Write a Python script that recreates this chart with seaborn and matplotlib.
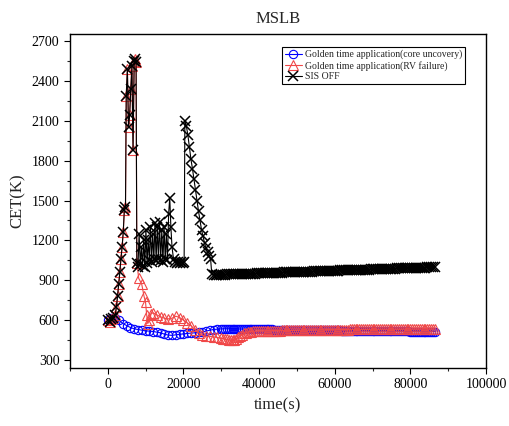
import numpy as np
import pandas as pd
import matplotlib
matplotlib.use("Agg")
import matplotlib.pyplot as plt
import seaborn as sns
from matplotlib.ticker import MultipleLocator

sns.set_style("ticks")
plt.rcParams['font.family'] = ['Liberation Serif', 'DejaVu Serif']

# ---- data ----
# Golden time application (core uncovery)
t_core = [0, 1000, 2000, 3000, 4000, 5000, 6000, 7000, 8000, 9000, 10000, 11000, 12000, 13000,
          14000, 15000, 16000, 17000, 18000, 19000, 20000, 21000, 22000, 23000, 24000, 25000,
          26000, 27000, 28000, 29000, 30000,
          30500, 31000, 31500, 32000, 32500, 33000, 33500, 34000, 34500, 35000,
          35500, 36000, 36500, 37000, 37500, 38000, 38500, 39000, 39500, 40000,
          40500, 41000, 41500, 42000, 42500, 43000, 43500, 44000, 44500, 45000,
          45500, 46000, 46500, 47000, 47500, 48000, 48500, 49000, 49500, 50000,
          50500, 51000, 51500, 52000, 52500, 53000, 53500, 54000, 54500, 55000,
          55500, 56000, 56500, 57000, 57500, 58000, 58500, 59000, 59500, 60000,
          60500, 61000, 61500, 62000, 62500, 63000, 63500, 64000, 64500, 65000,
          65500, 66000, 66500, 67000, 67500, 68000, 68500, 69000, 69500, 70000,
          70500, 71000, 71500, 72000, 72500, 73000, 73500, 74000, 74500, 75000,
          75500, 76000, 76500, 77000, 77500, 78000, 78500, 79000, 79500, 80000,
          80500, 81000, 81500, 82000, 82500, 83000, 83500, 84000, 84500, 85000,
          85500, 86000, 86400]
v_core = [600, 615, 620, 600, 575, 560, 545, 535, 530, 525, 520, 518, 515, 510,
          505, 495, 488, 486, 490, 494, 497, 500, 503, 505, 508, 512,
          518, 525, 530, 533, 535,
          535, 536, 536, 536, 536, 535, 535, 535, 535, 534,
          534, 534, 534, 533, 533, 533, 533, 533, 533, 532,
          532, 532, 532, 531, 531, 531, 531, 530, 530, 530,
          530, 530, 529, 529, 529, 529, 528, 528, 528, 528,
          527, 527, 527, 527, 527, 526, 526, 526, 526, 525,
          525, 525, 525, 525, 524, 524, 524, 524, 523, 523,
          523, 523, 523, 522, 522, 522, 522, 521, 521, 521,
          521, 521, 520, 520, 520, 520, 520, 519, 519, 519,
          519, 519, 518, 518, 518, 518, 518, 517, 517, 517,
          517, 517, 517, 516, 516, 516, 516, 516, 516, 515,
          515, 515, 515, 515, 515, 515, 515, 515, 515, 515,
          515, 515, 515]

# Golden time application (RV failure)
t_rv = [0, 500, 1000, 1500, 2000, 2300, 2600, 2900, 3200, 3500, 3800, 4100, 4400, 4700, 4900,
        5200, 5500, 5800, 6100, 6400, 6700, 7000, 7300, 7500, 7700, 8200, 9000, 9600, 10000,
        10300, 10600, 11000, 11500, 12000, 13000, 14000, 15000, 16000, 17000, 18000, 19000,
        20000, 21000, 22000, 23000, 24000, 25000, 26000, 27000, 28000, 29000, 30000,
        30500, 31000, 31500, 32000, 32500, 33000, 33500, 34000, 34500, 35000,
        35500, 36000, 36500, 37000, 37500, 38000, 38500, 39000, 39500, 40000,
        40500, 41000, 41500, 42000, 42500, 43000, 43500, 44000, 44500, 45000,
        45500, 46000, 46500, 47000, 47500, 48000, 48500, 49000, 49500, 50000,
        50500, 51000, 51500, 52000, 52500, 53000, 53500, 54000, 54500, 55000,
        55500, 56000, 56500, 57000, 57500, 58000, 58500, 59000, 59500, 60000,
        60500, 61000, 61500, 62000, 62500, 63000, 63500, 64000, 64500, 65000,
        65500, 66000, 66500, 67000, 67500, 68000, 68500, 69000, 69500, 70000,
        70500, 71000, 71500, 72000, 72500, 73000, 73500, 74000, 74500, 75000,
        75500, 76000, 76500, 77000, 77500, 78000, 78500, 79000, 79500, 80000,
        80500, 81000, 81500, 82000, 82500, 83000, 83500, 84000, 84500, 85000,
        85500, 86000, 86400]
v_rv = [600, 590, 610, 620, 640, 700, 780, 870, 960, 1060, 1150, 1260, 1430, 1450, 2290,
        2490, 2050, 2140, 2340, 2510, 1880, 2550, 2565, 2540, 1030, 915, 870, 780, 735,
        640, 575, 600, 650, 655, 640, 625, 615, 610, 615, 630, 620,
        600, 580, 560, 530, 505, 485, 480, 478, 475, 470, 465,
        462, 458, 455, 452, 450, 448, 450, 460, 470, 480,
        490, 500, 505, 510, 513, 515, 517, 518, 519, 520,
        520, 520, 521, 521, 521, 521, 522, 522, 522, 522,
        522, 523, 523, 523, 523, 524, 524, 524, 524, 525,
        525, 525, 525, 526, 526, 526, 526, 527, 527, 527,
        527, 528, 528, 528, 528, 529, 529, 529, 529, 529,
        529, 530, 530, 530, 530, 530, 530, 531, 531, 531,
        531, 531, 531, 531, 532, 532, 532, 532, 532, 532,
        532, 532, 533, 533, 533, 533, 533, 533, 533, 533,
        533, 534, 534, 534, 534, 534, 534, 534, 534, 534,
        534, 535, 535, 535, 535, 535, 535, 535, 535, 535,
        535, 535, 535]

# SIS OFF
t_sis = [0, 500, 1000, 1500, 2000, 2300, 2600, 2900, 3200, 3500, 3800, 4100, 4400, 4700, 4900,
         5200, 5500, 5800, 6100, 6400, 6700, 7000, 7300, 7500, 7700, 8000, 8300, 8600, 8900,
         9200, 9500, 9800, 10100, 10400, 10700, 11000, 11300, 11600, 11900, 12200, 12500,
         12800, 13100, 13400, 13700, 14000, 14300, 14600, 14900, 15200, 15500, 15800, 16100,
         16400, 16700, 17000, 17400, 17800, 18200, 18600, 19000, 19400, 19800, 20200, 20400,
         20800, 21200, 21600, 22000, 22400, 22800, 23200, 23600, 24000, 24400, 24800, 25200,
         25600, 26000, 26400, 26800, 27200, 27500,
         28000, 28500, 29000, 29500, 30000, 30500, 31000, 31500, 32000, 32500,
         33000, 33500, 34000, 34500, 35000, 35500, 36000, 36500, 37000, 37500,
         38000, 38500, 39000, 39500, 40000, 40500, 41000, 41500, 42000, 42500,
         43000, 43500, 44000, 44500, 45000, 45500, 46000, 46500, 47000, 47500,
         48000, 48500, 49000, 49500, 50000, 50500, 51000, 51500, 52000, 52500,
         53000, 53500, 54000, 54500, 55000, 55500, 56000, 56500, 57000, 57500,
         58000, 58500, 59000, 59500, 60000, 60500, 61000, 61500, 62000, 62500,
         63000, 63500, 64000, 64500, 65000, 65500, 66000, 66500, 67000, 67500,
         68000, 68500, 69000, 69500, 70000, 70500, 71000, 71500, 72000, 72500,
         73000, 73500, 74000, 74500, 75000, 75500, 76000, 76500, 77000, 77500,
         78000, 78500, 79000, 79500, 80000, 80500, 81000, 81500, 82000, 82500,
         83000, 83500, 84000, 84500, 85000, 85500, 86000, 86400]
v_sis = [600, 590, 610, 620, 640, 700, 780, 870, 960, 1060, 1150, 1260, 1430, 1450, 2290,
         2490, 2050, 2140, 2340, 2510, 1880, 2550, 2565, 2540, 1030, 1000, 1250, 1020, 1150,
         1010, 1200, 1000, 1280, 1030, 1200, 1050, 1300, 1040, 1250, 1060, 1330,
         1050, 1300, 1060, 1340, 1050, 1280, 1040, 1300, 1060, 1250, 1050, 1400,
         1520, 1300, 1150, 1060, 1040, 1030, 1040, 1030, 1035, 1030, 1040, 2100,
         2060, 1990, 1900, 1810, 1740, 1660, 1580, 1500, 1420, 1350, 1280, 1230,
         1180, 1140, 1110, 1080, 1060, 950,
         940, 940, 941, 941, 942, 943, 943, 944, 944, 945,
         945, 946, 946, 947, 947, 948, 948, 949, 949, 950,
         950, 951, 951, 952, 952, 953, 953, 954, 954, 955,
         955, 956, 956, 957, 957, 958, 958, 959, 959, 960,
         960, 961, 961, 962, 962, 963, 963, 964, 964, 965,
         965, 966, 966, 967, 967, 968, 968, 969, 969, 970,
         970, 971, 971, 972, 972, 973, 973, 974, 974, 975,
         975, 976, 976, 977, 977, 978, 978, 979, 979, 980,
         980, 981, 981, 982, 982, 983, 983, 984, 984, 985,
         985, 986, 986, 987, 987, 988, 988, 989, 989, 990,
         990, 991, 991, 992, 992, 993, 993, 994, 994, 995,
         995, 996, 996, 997, 997, 998, 998, 999]

labels = ["Golden time application(core uncovery)",
          "Golden time application(RV failure)",
          "SIS OFF"]

df_core = pd.DataFrame({"t": t_core, "v": v_core})
df_rv = pd.DataFrame({"t": t_rv, "v": v_rv})
df_sis = pd.DataFrame({"t": t_sis, "v": v_sis})

fig = plt.figure(figsize=(5.1, 4.26), dpi=100)
ax = fig.add_axes([0.137, 0.136, 0.816, 0.784])

sns.lineplot(data=df_core, x="t", y="v", ax=ax, sort=False, estimator=None,
             color="#0000ff", lw=0.8, marker="o", markersize=6,
             markerfacecolor="none", markeredgecolor="#0000ff", markeredgewidth=0.8,
             label=labels[0])
sns.lineplot(data=df_rv, x="t", y="v", ax=ax, sort=False, estimator=None,
             color="#f04848", lw=0.8, marker="^", markersize=6.5,
             markerfacecolor="none", markeredgecolor="#f04848", markeredgewidth=0.8,
             label=labels[1])
sns.lineplot(data=df_sis, x="t", y="v", ax=ax, sort=False, estimator=None,
             color="black", lw=0.8, marker="x", markersize=6.5,
             markeredgecolor="black", markeredgewidth=1.1,
             label=labels[2])

ax.set_xlim(-10000, 100000)
ax.set_ylim(240, 2752)
ax.xaxis.set_major_locator(MultipleLocator(20000))
ax.xaxis.set_minor_locator(MultipleLocator(10000))
ax.yaxis.set_major_locator(MultipleLocator(300))
ax.yaxis.set_minor_locator(MultipleLocator(150))
ax.tick_params(which="major", direction="out", length=4, width=0.8, labelsize=10, colors="black")
ax.tick_params(which="minor", direction="out", length=2.5, width=0.8)
for s in ax.spines.values():
    s.set_visible(True)
    s.set_linewidth(1.0)
    s.set_color("black")

ax.set_xlabel("time(s)", fontsize=12)
ax.set_ylabel("CET(K)", fontsize=12)
ax.set_title("MSLB", fontsize=12, pad=8)

leg = ax.legend(loc="upper right", bbox_to_anchor=(0.95, 0.962), fontsize=7,
                frameon=True, fancybox=False, edgecolor="black", framealpha=1,
                borderpad=0.3, labelspacing=0.15, handlelength=1.8, handletextpad=0.3,
                borderaxespad=0)
leg.get_frame().set_linewidth(0.8)

fig.savefig("out.png", dpi=100)
